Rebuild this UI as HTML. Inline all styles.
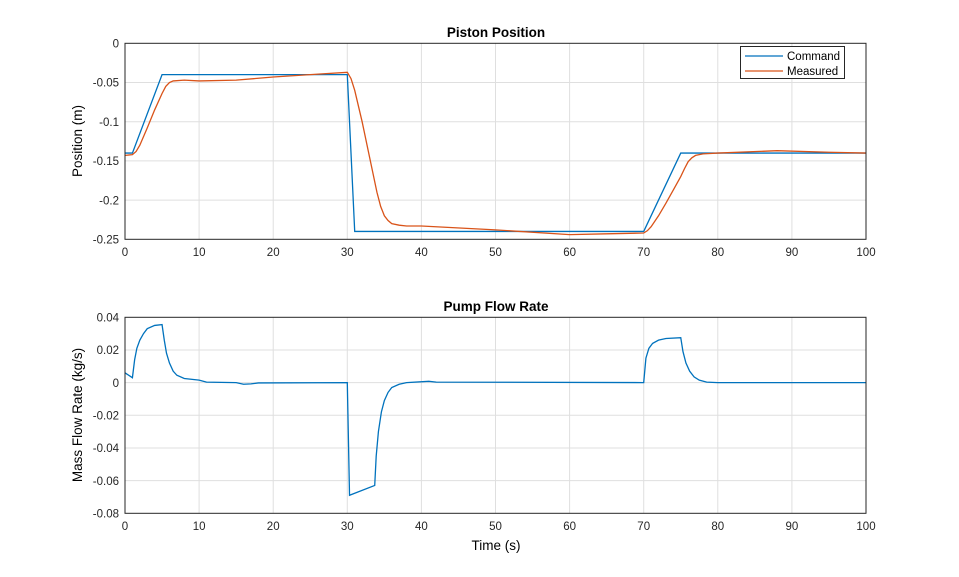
<!DOCTYPE html>
<html><head><style>body{margin:0;background:#fff}svg{display:block;font-family:"Liberation Sans",sans-serif}</style></head><body>
<svg width="959" height="577" viewBox="0 0 959 577">
<rect width="959" height="577" fill="#fff"/>
<g stroke="#dfdfdf" stroke-width="1">
<path d="M199.1 43.3V239.3M273.2 43.3V239.3M347.3 43.3V239.3M421.4 43.3V239.3M495.5 43.3V239.3M569.6 43.3V239.3M643.7 43.3V239.3M717.8 43.3V239.3M791.9 43.3V239.3M125 82.5H866M125 121.7H866M125 160.9H866M125 200.1H866"/>
<path d="M199.1 317.3V513.3M273.2 317.3V513.3M347.3 317.3V513.3M421.4 317.3V513.3M495.5 317.3V513.3M569.6 317.3V513.3M643.7 317.3V513.3M717.8 317.3V513.3M791.9 317.3V513.3M125 350H866M125 382.6H866M125 415.3H866M125 448H866M125 480.6H866"/>
</g>
<g fill="none" stroke-width="1.3">
<polyline transform="matrix(7.41 0 0 -784 125 43.3)" vector-effect="non-scaling-stroke" stroke="#0072bd" points="0,-0.14 1,-0.14 5,-0.04 30,-0.04 31,-0.24 70,-0.24 75,-0.14 100,-0.14"/>
<polyline transform="matrix(7.41 0 0 -784 125 43.3)" vector-effect="non-scaling-stroke" stroke="#d95319" points="0,-0.143 1,-0.142 1.5,-0.138 2,-0.13 3,-0.108 4,-0.085 5,-0.064 5.5,-0.055 6,-0.05 6.5,-0.048 8,-0.047 10,-0.048 15,-0.047 20,-0.043 25,-0.040 30,-0.037 30.5,-0.045 31,-0.06 32,-0.1 33,-0.145 34,-0.19 34.5,-0.208 35,-0.22 35.5,-0.226 36,-0.23 37,-0.232 38,-0.233 40,-0.233 50,-0.238 60,-0.244 65,-0.243 70,-0.242 70.5,-0.239 71,-0.234 72,-0.22 73,-0.204 74,-0.187 75,-0.17 75.5,-0.16 76,-0.151 76.5,-0.146 77,-0.143 78,-0.141 80,-0.14 88,-0.137 95,-0.139 100,-0.14"/>
<polyline transform="matrix(7.41 0 0 -1633 125 382.6)" vector-effect="non-scaling-stroke" stroke="#0072bd" points="0,0.006 1,0.003 1.3,0.014 1.6,0.021 2,0.026 2.5,0.030 3,0.033 4,0.035 5,0.0355 5.3,0.026 5.6,0.018 6,0.012 6.5,0.007 7,0.0045 8,0.0025 10,0.0015 11,0.0003 15,0 16,-0.001 17,-0.0008 18,-0.0002 30,0 30.3,-0.069 33.7,-0.063 33.9,-0.045 34.2,-0.03 34.6,-0.018 35,-0.011 35.5,-0.006 36,-0.003 37,-0.001 38,0 41,0.0008 42,0.0003 70,0 70.3,0.015 70.7,0.021 71.2,0.024 72,0.026 73,0.027 75,0.0275 75.3,0.019 75.7,0.012 76.2,0.007 76.8,0.0035 77.5,0.0015 78.5,0.0003 80,0 100,0"/>
</g>
<g fill="none" stroke="#262626" stroke-width="1">
<rect x="125" y="43.3" width="741" height="196"/>
<rect x="125" y="317.3" width="741" height="196"/>
</g>
<g font-size="11.5" fill="#262626" text-anchor="middle">
<text x="125" y="256">0</text><text x="199.1" y="256">10</text><text x="273.2" y="256">20</text><text x="347.3" y="256">30</text><text x="421.4" y="256">40</text><text x="495.5" y="256">50</text><text x="569.6" y="256">60</text><text x="643.7" y="256">70</text><text x="717.8" y="256">80</text><text x="791.9" y="256">90</text><text x="866" y="256">100</text>
<text x="125" y="530">0</text><text x="199.1" y="530">10</text><text x="273.2" y="530">20</text><text x="347.3" y="530">30</text><text x="421.4" y="530">40</text><text x="495.5" y="530">50</text><text x="569.6" y="530">60</text><text x="643.7" y="530">70</text><text x="717.8" y="530">80</text><text x="791.9" y="530">90</text><text x="866" y="530">100</text>
</g>
<g font-size="11.5" fill="#262626" text-anchor="end">
<text x="119" y="47.5">0</text><text x="119" y="86.7">-0.05</text><text x="119" y="125.9">-0.1</text><text x="119" y="165.1">-0.15</text><text x="119" y="204.3">-0.2</text><text x="119" y="243.5">-0.25</text>
<text x="119" y="321.5">0.04</text><text x="119" y="354.2">0.02</text><text x="119" y="386.8">0</text><text x="119" y="419.5">-0.02</text><text x="119" y="452.2">-0.04</text><text x="119" y="484.8">-0.06</text><text x="119" y="517.5">-0.08</text>
</g>
<g font-size="13.5" fill="#000" text-anchor="middle">
<text x="496" y="37" font-weight="bold">Piston Position</text>
<text x="496" y="311" font-weight="bold">Pump Flow Rate</text>
<text x="496" y="550">Time (s)</text>
<text transform="translate(82 141) rotate(-90)">Position (m)</text>
<text transform="translate(82 415) rotate(-90)">Mass Flow Rate  (kg/s)</text>
</g>
<rect x="740.5" y="46.5" width="104" height="32" fill="#fff" stroke="#262626"/>
<line x1="745" y1="56" x2="783" y2="56" stroke="#0072bd" stroke-width="1.3"/>
<line x1="745" y1="71" x2="783" y2="71" stroke="#d95319" stroke-width="1.3"/>
<g font-size="11.5" fill="#000"><text x="787" y="60">Command</text><text x="787" y="75">Measured</text></g>
</svg>
</body></html>
